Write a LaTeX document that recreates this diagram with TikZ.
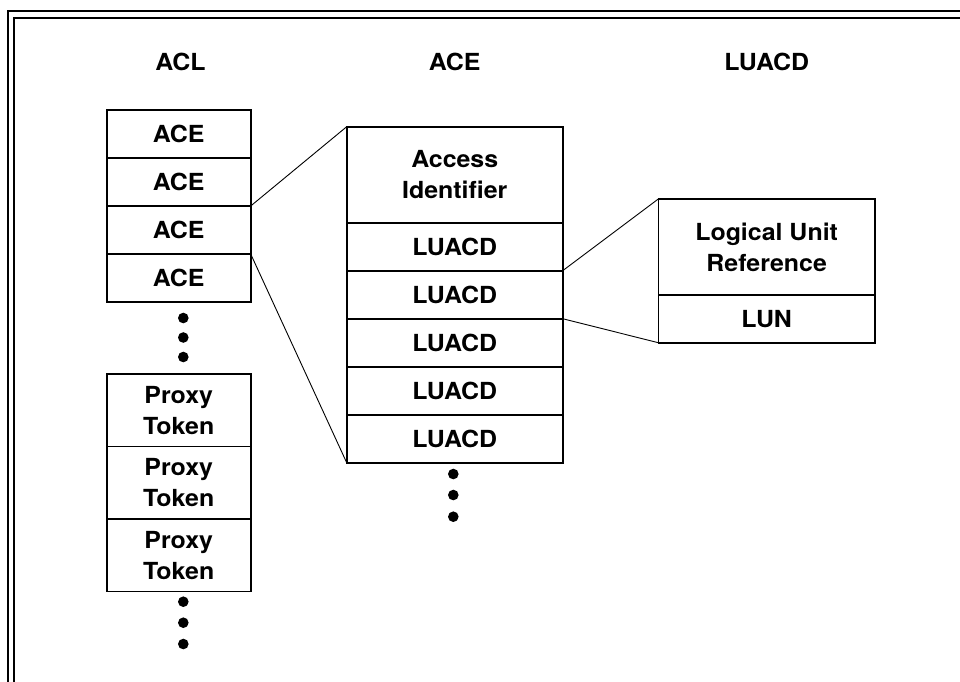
\documentclass[tikz,border=0pt]{standalone}
\usepackage{fontspec}
\setmainfont{TeX Gyre Heros}[FakeStretch=1.06]
\usetikzlibrary{positioning}
\begin{document}
\begin{tikzpicture}[
        x=1pt, y=-1pt, % 1 пиксель = 1pt, ось y вниз
        frame/.style = {line width=2pt}, % Двойная рамка
        kant/.style = {line width=0.9pt}, % Соединительные линии
        head/.style = {font=\fontsize{23.5}{31}\selectfont\bfseries},
        cell/.style = {draw, line width=1.6pt, inner sep=0pt, outer sep=0pt, align=center,
                minimum width=144pt, minimum height=48pt, font=\fontsize{23.5}{31}\selectfont\bfseries}, % Стиль ячеек
        wide/.style = {cell, minimum width=216pt},
    ]
    \useasboundingbox (0,0) rectangle (960,681);

    % Рамка
    \draw[frame] (990,11) -- (8,11) -- (8,700);
    \draw[frame] (990,18.3) -- (14.3,18.3) -- (14.3,700);

    % Заголовки
    \node[head] (hacl) at (180.5,62) {ACL};
    \node[head] (hace) at (454.7,62) {ACE};
    \node[head] (hluacd) at (766.7,62) {LUACD};

    % ACL
    \node[cell, anchor=north west] (a1) at (106.7,110) {ACE};
    \node[cell, below=0pt of a1] (a2) {ACE};
    \node[cell, below=0pt of a2] (a3) {ACE};
    \node[cell, below=0pt of a3] (a4) {ACE};
    \node[cell, minimum height=72.5pt, anchor=north west] (p1) at (106.7,374) {Proxy\\Token};
    \node[cell, minimum height=72.5pt, below=0pt of p1] (p2) {Proxy\\Token};
    \node[cell, minimum height=72.5pt, below=0pt of p2] (p3) {Proxy\\Token};

    % ACE
    \node[wide, minimum height=96pt, anchor=north west] (e0) at (346.7,126.7) {Access\\Identifier};
    \node[wide, below=0pt of e0] (e1) {LUACD};
    \node[wide, below=0pt of e1] (e2) {LUACD};
    \node[wide, below=0pt of e2] (e3) {LUACD};
    \node[wide, below=0pt of e3] (e4) {LUACD};
    \node[wide, below=0pt of e4] (e5) {LUACD};

    % LUACD
    \node[wide, minimum width=216.7pt, minimum height=96pt, anchor=north west] (l0) at (658.3,199) {Logical Unit\\Reference};
    \node[wide, minimum width=216.7pt, minimum height=47.7pt, below=0pt of l0] (l1) {LUN};

    % Многоточия
    \foreach \y in {318,337.5,357,601.7,622.7,644} \fill (183.3,\y) circle (5.3pt);
    \foreach \y in {474,495,516.7} \fill (453.3,\y) circle (5.3pt);

    % Связи
    \draw[kant] (a3.north east) -- (e0.north west);
    \draw[kant] (a4.north east) -- (e5.south west);
    \draw[kant] (e2.north east) -- (l0.north west);
    \draw[kant] (e3.north east) -- (l1.south west);
\end{tikzpicture}
\end{document}
